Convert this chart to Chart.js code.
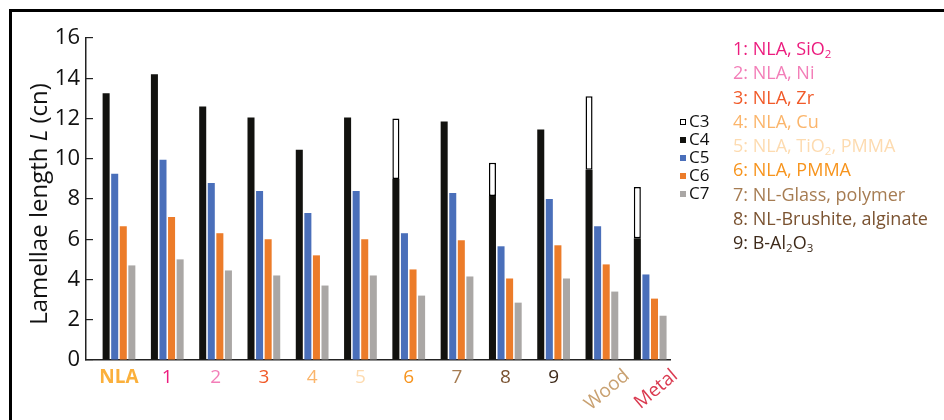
<!DOCTYPE html>
<html>
<head>
<meta charset="utf-8">
<script src="https://cdn.jsdelivr.net/npm/chart.js@4.4.1/dist/chart.umd.min.js"></script>
<style>
  body { margin: 0; background: #fff; }
  #wrap { position: relative; width: 944px; height: 420px; overflow: hidden; font-family: 'Open Sans', sans-serif; }
  #frame { position: absolute; left: 9px; top: 9px; width: 960px; height: 440px; border-top: 3px solid #000; border-left: 3px solid #000; }
  #chart { position: absolute; left: 0; top: 0; }
  #seriesLegend { position: absolute; left: 680px; top: 112px; font-size: 17px; color: #111; }
  #seriesLegend div { height: 18px; line-height: 18px; white-space: nowrap; }
  #seriesLegend span.box { display: inline-block; width: 6px; height: 6px; margin-right: 3px; vertical-align: 2px; box-sizing: border-box; }
  #colorKey { position: absolute; left: 733px; top: 36px; font-size: 18px; }
  #colorKey div { height: 24.3px; line-height: 24px; white-space: nowrap; }
  #colorKey sub { font-size: 11.5px; vertical-align: -3px; }
</style>
</head>
<body>
<div id="wrap">
  <div id="frame"></div>
  <canvas id="chart" width="944" height="420"></canvas>
  <div id="seriesLegend"></div>
  <div id="colorKey"></div>
</div>
<script>
// categories (x axis) and their label colours
const categories = ['NLA', '1', '2', '3', '4', '5', '6', '7', '8', '9', 'Wood', 'Metal'];
const labelColors = ['#FBB03B', '#EC1C7E', '#F37EB8', '#F15A29', '#FBB56B', '#FDDBB0', '#F7941D', '#A67C52', '#7A5230', '#3E2A1A', '#C9A171', '#DA3A50'];
const rotatedLabels = ['Wood', 'Metal'];

// lamellae length per category (cn)
const c3 = [null, null, null, null, null, null, 12.0, null, 9.8, null, 13.1, 8.6];
const c4 = [13.25, 14.2, 12.6, 12.05, 10.45, 12.05, 9.0, 11.85, 8.15, 11.45, 9.45, 6.05];
const c5 = [9.25, 9.95, 8.8, 8.4, 7.3, 8.4, 6.3, 8.3, 5.65, 8.0, 6.65, 4.25];
const c6 = [6.65, 7.1, 6.3, 6.0, 5.2, 6.0, 4.5, 5.95, 4.05, 5.7, 4.75, 3.05];
const c7 = [4.7, 5.0, 4.45, 4.2, 3.7, 4.2, 3.2, 4.15, 2.85, 4.05, 3.4, 2.2];

const seriesNames = ['C3', 'C4', 'C5', 'C6', 'C7'];
const seriesColors = ['#ffffff', '#12120f', '#4a6fba', '#ec7c2a', '#aaa7a5'];

// y axis
const yMin = 0, yMax = 16, yStep = 2;
const yTitleParts = [['Lamellae length ', 'normal'], ['L', 'italic'], [' (cn)', 'normal']];

// right-hand key for the numbered materials
const keyLabels = ['1: NLA, SiO<sub>2</sub>', '2: NLA, Ni', '3: NLA, Zr', '4: NLA, Cu', '5: NLA, TiO<sub>2</sub>, PMMA',
  '6: NLA, PMMA', '7: NL-Glass, polymer', '8: NL-Brushite, alginate', '9: B-Al<sub>2</sub>O<sub>3</sub>'];
const keyColors = labelColors.slice(1, 10);

const FONT = "'Open Sans', sans-serif";

// series legend
const legendEl = document.getElementById('seriesLegend');
seriesNames.forEach(function (name, i) {
  const row = document.createElement('div');
  const border = i === 0 ? 'border:1px solid #000;' : '';
  row.innerHTML = '<span class="box" style="background:' + seriesColors[i] + ';' + border + '"></span>' + name;
  legendEl.appendChild(row);
});

// material key
const keyEl = document.getElementById('colorKey');
keyLabels.forEach(function (txt, i) {
  const row = document.createElement('div');
  row.style.color = keyColors[i];
  row.innerHTML = txt;
  keyEl.appendChild(row);
});

// Wood / Metal slanted, plus the y title with an italic L
const extraText = {
  id: 'extraText',
  afterDraw(chart) {
    const ctx = chart.ctx;
    const xs = chart.scales.x;
    const ys = chart.scales.y;
    ctx.save();
    ctx.font = '19px ' + FONT;
    ctx.textAlign = 'right';
    ctx.textBaseline = 'top';
    rotatedLabels.forEach(function (lbl) {
      const i = categories.indexOf(lbl);
      const x = xs.getPixelForValue(i);
      ctx.save();
      ctx.translate(x + 19, 366);
      ctx.rotate(-40 * Math.PI / 180);
      ctx.fillStyle = labelColors[i];
      ctx.fillText(lbl, 0, 0);
      ctx.restore();
    });

    // y title
    const cy = (ys.top + ys.bottom) / 2 + 5;
    ctx.translate(40, cy);
    ctx.rotate(-Math.PI / 2);
    ctx.textAlign = 'left';
    ctx.textBaseline = 'middle';
    ctx.fillStyle = '#111';
    let total = 0;
    yTitleParts.forEach(function (p) {
      ctx.font = p[1] + ' 24px ' + FONT;
      total += ctx.measureText(p[0]).width;
    });
    let x = -total / 2;
    yTitleParts.forEach(function (p) {
      ctx.font = p[1] + ' 24px ' + FONT;
      ctx.fillText(p[0], x, 0);
      x += ctx.measureText(p[0]).width;
    });
    ctx.restore();
  }
};

const common = { barPercentage: 0.82, categoryPercentage: 0.71 };

new Chart(document.getElementById('chart'), {
  type: 'bar',
  data: {
    labels: categories.map(function (_, i) { return i; }),
    datasets: [
      Object.assign({
        label: 'C3', stack: 'c34',
        data: c3.map(function (v, i) { return v === null ? null : [c4[i], v]; }),
        backgroundColor: seriesColors[0], borderColor: '#000', borderWidth: 1.5, borderSkipped: false
      }, common),
      Object.assign({ label: 'C4', stack: 'c34', data: c4, backgroundColor: seriesColors[1] }, common),
      Object.assign({ label: 'C5', data: c5, backgroundColor: seriesColors[2] }, common),
      Object.assign({ label: 'C6', data: c6, backgroundColor: seriesColors[3] }, common),
      Object.assign({ label: 'C7', data: c7, backgroundColor: seriesColors[4] }, common)
    ]
  },
  options: {
    responsive: false,
    animation: false,
    devicePixelRatio: 1,
    layout: { padding: { left: 0, top: 38, right: 274, bottom: 0 } },
    plugins: { legend: { display: false }, tooltip: { enabled: false } },
    scales: {
      x: {
        type: 'linear',
        min: -0.683,
        max: 11.41,
        offset: false,
        grid: { display: false, drawTicks: false, offset: false },
        border: { display: true, color: '#222', width: 1.5 },
        afterFit: function (s) { s.height = 60; },
        ticks: {
          stepSize: 1,
          includeBounds: false,
          autoSkip: false,
          maxRotation: 0,
          minRotation: 0,
          padding: 6,
          callback: function (v) {
            const lbl = categories[v];
            return rotatedLabels.indexOf(lbl) >= 0 ? '' : lbl;
          },
          color: function (c) { return labelColors[c.index] || '#000'; },
          font: function (c) { return { family: FONT, size: 19, weight: c.index === 0 ? 'bold' : 'normal' }; }
        }
      },
      y: {
        min: yMin,
        max: yMax,
        stacked: false,
        afterFit: function (s) { s.width = 86; },
        border: { display: true, color: '#222', width: 1.5 },
        grid: { drawOnChartArea: false, tickLength: -7, color: '#222', lineWidth: 1.2 },
        ticks: { stepSize: yStep, padding: 13, color: '#111', font: { family: FONT, size: 22 } }
      }
    }
  },
  plugins: [extraText]
});
</script>
</body>
</html>
